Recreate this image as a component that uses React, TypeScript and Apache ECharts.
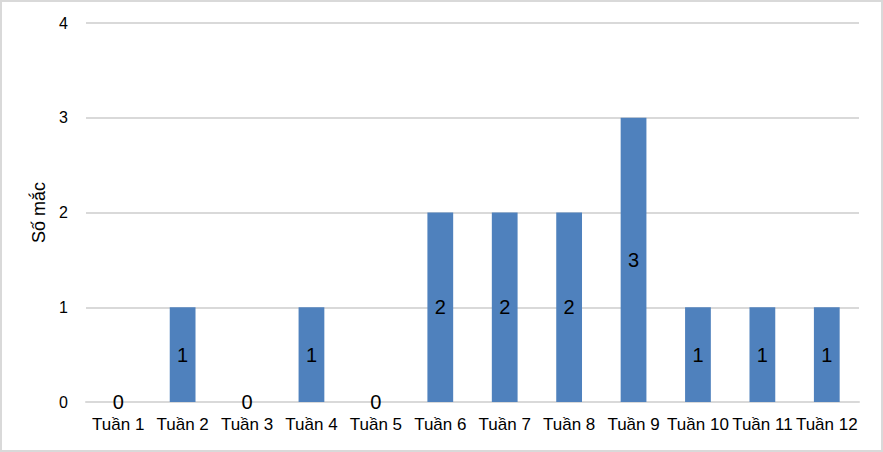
import React, { useEffect, useRef } from "react";
import * as echarts from "echarts";

const categories = ["Tuần 1", "Tuần 2", "Tuần 3", "Tuần 4", "Tuần 5", "Tuần 6", "Tuần 7", "Tuần 8", "Tuần 9", "Tuần 10", "Tuần 11", "Tuần 12"];
const values = [0, 1, 0, 1, 0, 2, 2, 2, 3, 1, 1, 1];
const yAxisName = "Số mắc";

const FONT = "'Liberation Sans', Arial, sans-serif";

export default function App() {
  const ref = useRef<HTMLDivElement>(null);
  useEffect(() => {
    if (!ref.current) return;
    const chart = echarts.init(ref.current, undefined, { renderer: "svg" });
    chart.setOption({
      animation: false,
      backgroundColor: "#ffffff",
      textStyle: { fontFamily: FONT },
      graphic: [
        {
          type: "rect",
          shape: { x: 1, y: 1, width: 881, height: 450 },
          style: { fill: "none", stroke: "#d9d9d9", lineWidth: 2 },
          silent: true,
        },
      ],
      grid: { left: 86, right: 24, top: 23, bottom: 50 },
      xAxis: {
        type: "category",
        data: categories,
        axisTick: { show: false },
        axisLine: { lineStyle: { color: "#d9d9d9", width: 2 } },
        axisLabel: { color: "#000", fontSize: 17, fontFamily: FONT, margin: 14, interval: 0 },
      },
      yAxis: {
        type: "value",
        min: 0,
        max: 4,
        interval: 1,
        name: yAxisName,
        nameLocation: "middle",
        nameGap: 36,
        nameTextStyle: { color: "#000", fontSize: 18, fontFamily: FONT },
        axisLine: { show: false },
        axisTick: { show: false },
        axisLabel: { color: "#000", fontSize: 16, fontFamily: FONT, margin: 18 },
        splitLine: { lineStyle: { color: "#d9d9d9", width: 2 } },
      },
      series: [
        {
          type: "bar",
          data: values,
          barCategoryGap: "60%",
          itemStyle: { color: "#4F81BD" },
          label: {
            show: true,
            position: "inside",
            color: "#000",
            fontSize: 20,
            fontFamily: FONT,
          },
        },
      ],
    });
    return () => chart.dispose();
  }, []);
  return (
    <div
      ref={ref}
      style={{ position: "fixed", left: 0, top: 0, width: 883, height: 452 }}
    />
  );
}
